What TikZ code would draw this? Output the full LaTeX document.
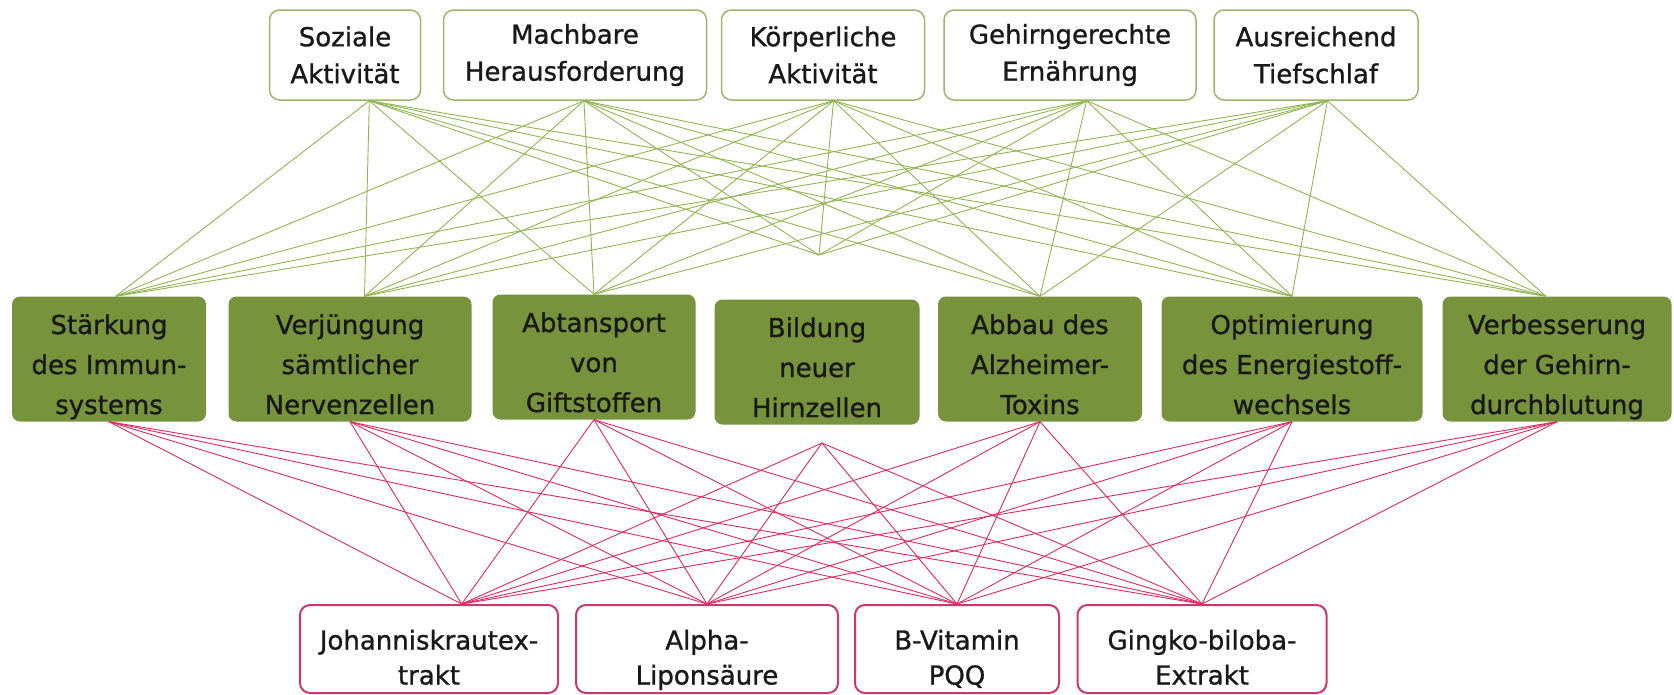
\documentclass[tikz,border=0pt]{standalone}
\usepackage{fontspec}
\setmainfont{DejaVu Sans}[FakeBold=1]
\usepackage{xcolor}
\usepackage{tikz}

\definecolor{blattgruen}{RGB}{119,147,60}
\definecolor{liniengruen}{RGB}{146,180,80}
\definecolor{randgruen}{RGB}{160,180,110}
\definecolor{linienrot}{RGB}{222,40,95}
\definecolor{randrot}{RGB}{205,55,105}

\begin{document}
\begin{tikzpicture}[x=1pt,y=-1pt]
	\tikzstyle{massnahme}=[draw=randgruen,line width=1.5pt,rounded corners=10pt,fill=white,align=center,minimum height=90pt,text=black!90,font=\fontsize{26}{37}\selectfont]
	\tikzstyle{wirkung}=[fill=blattgruen,rounded corners=8pt,align=center,minimum height=125pt,inner ysep=0pt,text height=116pt,text depth=6pt,text=black!90,font=\fontsize{26}{40}\selectfont]
	\tikzstyle{mittel}=[draw=randrot,line width=2pt,rounded corners=10pt,fill=white,align=center,minimum height=88pt,inner ysep=0pt,text height=77pt,text depth=6pt,text=black!90,font=\fontsize{26}{35}\selectfont]
	\tikzstyle{gruenlinie}=[draw=liniengruen,line width=0.9pt]
	\tikzstyle{rotlinie}=[draw=linienrot,line width=0.9pt]
	\useasboundingbox (0,0) rectangle (1674,694);

	\node[massnahme,minimum width=151pt] (a_1) at (345,55)  {Soziale\\Aktivität};
	\node[massnahme,minimum width=263pt] (a_2) at (575,55)  {Machbare\\Herausforderung};
	\node[massnahme,minimum width=203pt] (a_3) at (823,55)  {Körperliche\\Aktivität};
	\node[massnahme,minimum width=252pt] (a_4) at (1070,55) {Gehirngerechte\\Ernährung};
	\node[massnahme,minimum width=204pt] (a_5) at (1316,55) {Ausreichend\\Tiefschlaf};

	\node[wirkung,minimum width=194pt] (w_1) at (109,359)  {Stärkung\\des Immun-\\systems};
	\node[wirkung,minimum width=243pt] (w_2) at (350,359)  {Verjüngung\\sämtlicher\\Nervenzellen};
	\node[wirkung,minimum width=203pt] (w_3) at (594,357)  {Abtansport\\von\\Giftstoffen};
	\node[wirkung,minimum width=205pt] (w_4) at (817,362)  {Bildung\\neuer\\Hirnzellen};
	\node[wirkung,minimum width=204pt] (w_5) at (1040,359) {Abbau des\\Alzheimer-\\Toxins};
	\node[wirkung,minimum width=261pt] (w_6) at (1292,359) {Optimierung\\des Energiestoff-\\wechsels};
	\node[wirkung,minimum width=229pt] (w_7) at (1557,359) {Verbesserung\\der Gehirn-\\durchblutung};

	\node[mittel,minimum width=258pt] (s_1) at (429,649)  {Johanniskrautex-\\trakt};
	\node[mittel,minimum width=262pt] (s_2) at (707,649)  {Alpha-\\Liponsäure};
	\node[mittel,minimum width=204pt] (s_3) at (957,649)  {B-Vitamin\\PQQ};
	\node[mittel,minimum width=249pt] (s_4) at (1202,649) {Gingko-biloba-\\Extrakt};

	\coordinate (w_4o) at (819,255);
	\coordinate (w_4u) at (822,443);

	\path[gruenlinie]
	(a_1.-62) edge (w_1.84) edge (w_2.77) edge (w_3.north) edge (w_4o) edge (w_5.north) edge (w_6.north) edge (w_7.100)
	(a_2.-79) edge (w_1.84) edge (w_2.77) edge (w_3.north) edge (w_4o) edge (w_5.north) edge (w_6.north) edge (w_7.100)
	(a_3.-77) edge (w_1.84) edge (w_2.77) edge (w_3.north) edge (w_4o) edge (w_5.north) edge (w_6.north) edge (w_7.100)
	(a_4.-70) edge (w_1.84) edge (w_2.77) edge (w_3.north) edge (w_4o) edge (w_5.north) edge (w_6.north) edge (w_7.100)
	(a_5.-76) edge (w_1.84) edge (w_2.77) edge (w_3.north) edge (w_4o) edge (w_5.north) edge (w_6.north) edge (w_7.100);

	\path[rotlinie]
	(s_1.54)    edge (w_1.south) edge (w_2.south) edge (w_3.south) edge (w_4u) edge (w_5.south) edge (w_6.south) edge (w_7.south)
	(s_2.north) edge (w_1.south) edge (w_2.south) edge (w_3.south) edge (w_4u) edge (w_5.south) edge (w_6.south) edge (w_7.south)
	(s_3.north) edge (w_1.south) edge (w_2.south) edge (w_3.south) edge (w_4u) edge (w_5.south) edge (w_6.south) edge (w_7.south)
	(s_4.north) edge (w_1.south) edge (w_2.south) edge (w_3.south) edge (w_4u) edge (w_5.south) edge (w_6.south) edge (w_7.south);

\end{tikzpicture}
\end{document}
